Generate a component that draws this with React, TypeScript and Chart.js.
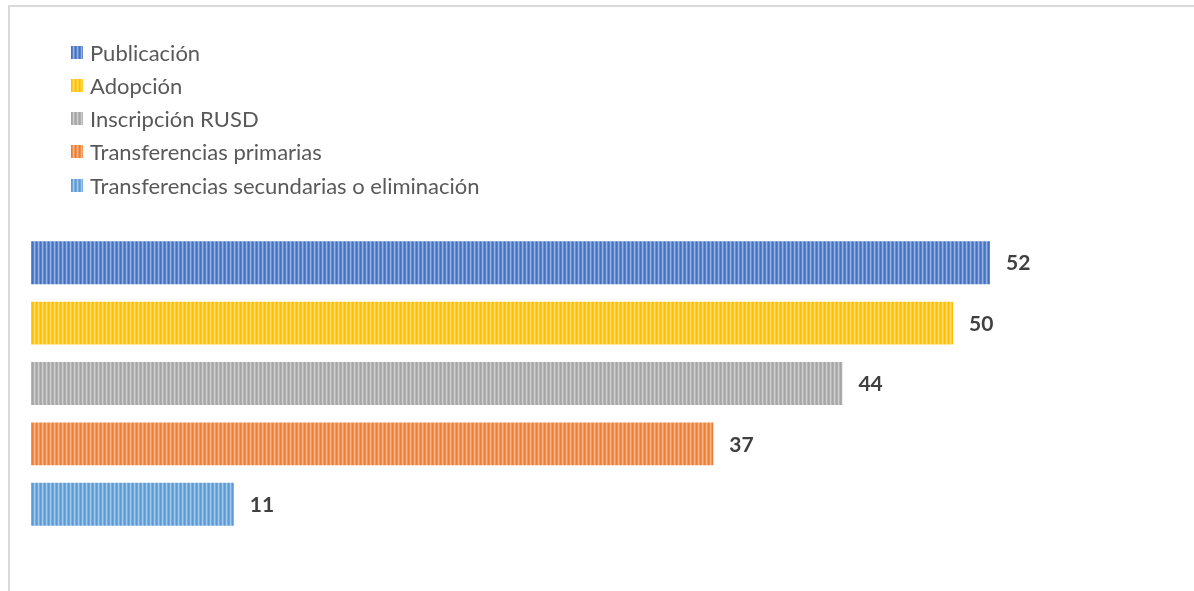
import React, { useEffect, useRef } from "react";
import { Chart, registerables } from "chart.js";

Chart.register(...registerables);

const categories = [""];
const seriesNames = [
  "Publicación",
  "Adopción",
  "Inscripción RUSD",
  "Transferencias primarias",
  "Transferencias secundarias o eliminación",
];
const seriesValues = [52, 50, 44, 37, 11];
const seriesColors = ["#4472C4", "#FFC000", "#A5A5A5", "#ED7D31", "#5B9BD5"];

function mix(hex: string, t: number): string {
  const n = parseInt(hex.slice(1), 16);
  const r = (n >> 16) & 255, g = (n >> 8) & 255, b = n & 255;
  const m = (c: number) => Math.round(c + (255 - c) * t);
  return `rgb(${m(r)},${m(g)},${m(b)})`;
}

const stripeMix = [0, 0.12, 0.45, 0.2];

function stripePattern(hex: string): CanvasPattern | string {
  const c = document.createElement("canvas");
  c.width = 4;
  c.height = 4;
  const ctx = c.getContext("2d");
  if (!ctx) return hex;
  stripeMix.forEach((t, i) => {
    ctx.fillStyle = mix(hex, t);
    ctx.fillRect(i, 0, 1, 4);
  });
  const p = ctx.createPattern(c, "repeat");
  return p || hex;
}

function stripeCss(hex: string): string {
  const parts = stripeMix.map((t, i) => `${mix(hex, t)} ${i}px, ${mix(hex, t)} ${i + 1}px`);
  return `repeating-linear-gradient(90deg, ${parts.join(", ")})`;
}

const labelPlugin = {
  id: "valueLabels",
  afterDatasetsDraw(chart: any) {
    const ctx = chart.ctx;
    ctx.save();
    ctx.font = "bold 21px Lato";
    ctx.fillStyle = "#404040";
    ctx.textAlign = "left";
    ctx.textBaseline = "middle";
    chart.data.datasets.forEach((ds: any, i: number) => {
      const meta = chart.getDatasetMeta(i);
      meta.data.forEach((el: any, j: number) => {
        ctx.fillText(String(ds.data[j]), el.x + 16, el.y + 1);
      });
    });
    ctx.restore();
  },
};

export default function App() {
  const ref = useRef<HTMLCanvasElement>(null);
  useEffect(() => {
    if (!ref.current) return;
    const chart = new Chart(ref.current, {
      type: "bar",
      data: {
        labels: categories,
        datasets: seriesNames.map((name, i) => ({
          label: name,
          data: [seriesValues[i]],
          backgroundColor: stripePattern(seriesColors[i]) as any,
          borderWidth: 0,
          barPercentage: 0.71,
          categoryPercentage: 1,
        })),
      },
      options: {
        indexAxis: "y",
        animation: false,
        responsive: false,
        maintainAspectRatio: false,
        layout: { padding: { left: 31, right: 56.5, top: 232.5, bottom: 56.5 } },
        scales: {
          x: { display: false, min: 0, max: 60 },
          y: { display: false },
        },
        plugins: { legend: { display: false }, tooltip: { enabled: false } },
      },
      plugins: [labelPlugin],
    });
    return () => chart.destroy();
  }, []);

  return (
    <div style={{ position: "fixed", left: 0, top: 0, width: 1194, height: 591, background: "#fff", overflow: "hidden" }}>
      <div
        style={{
          position: "absolute",
          left: 8,
          top: 5,
          width: 1200,
          height: 600,
          borderLeft: "2px solid #d9d9d9",
          borderTop: "2px solid #d9d9d9",
        }}
      />
      <canvas ref={ref} width={1194} height={591} style={{ position: "absolute", left: 0, top: 0 }} />
      {seriesNames.map((name, i) => (
        <div
          key={name}
          style={{
            position: "absolute",
            left: 71,
            top: 52 + i * 33.3 - 14,
            height: 28,
            display: "flex",
            alignItems: "center",
            fontFamily: "Lato",
            fontSize: 22,
            color: "#595959",
            whiteSpace: "nowrap",
          }}
        >
          <span style={{ display: "inline-block", width: 12, height: 13, marginRight: 7, background: stripeCss(seriesColors[i]) }} />
          <span>{name}</span>
        </div>
      ))}
    </div>
  );
}
